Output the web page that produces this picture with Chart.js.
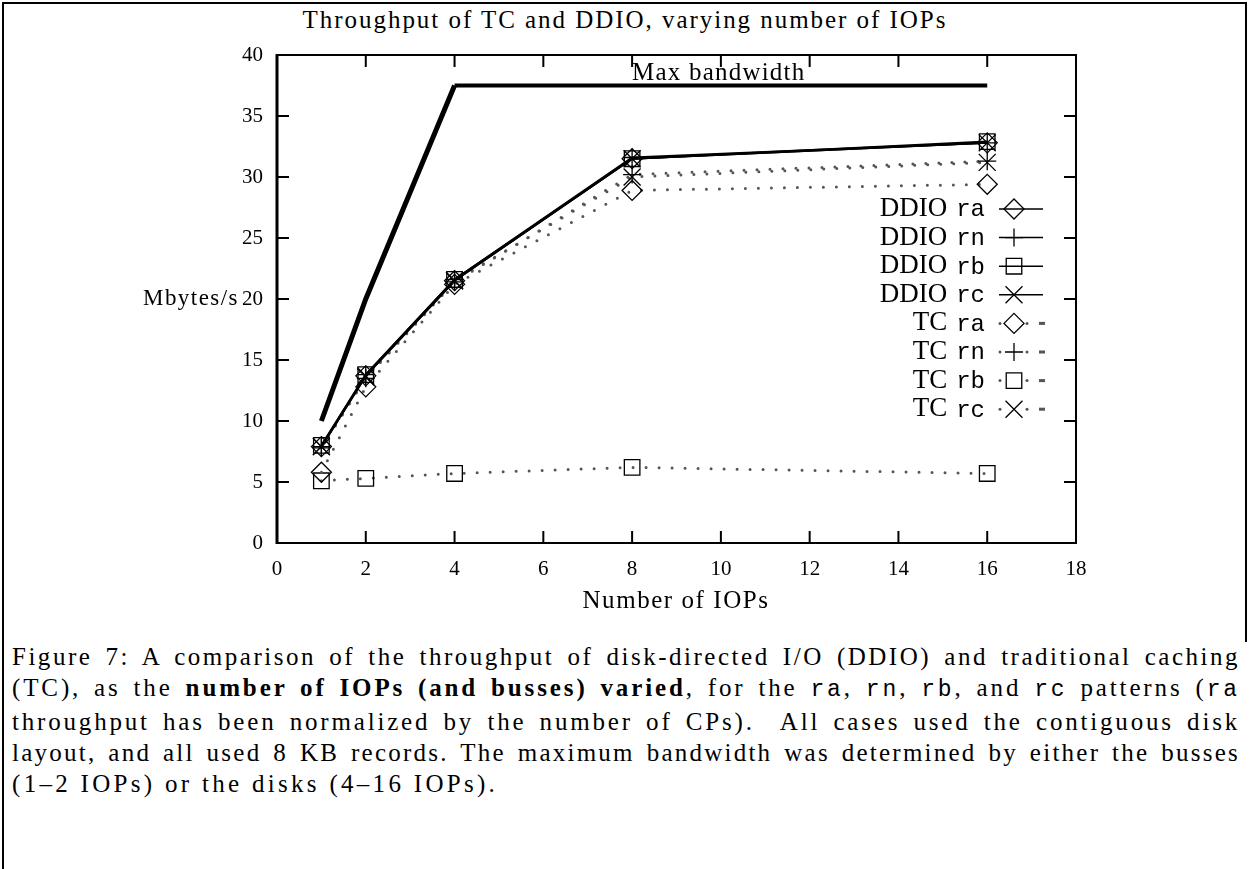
<!DOCTYPE html>
<html lang="en">
<head>
  <meta charset="UTF-8" />
  <title>Throughput of TC and DDIO, varying number of IOPs</title>
  <script src="https://cdn.jsdelivr.net/npm/chart.js"></script>
  <style>
    html, body {
      margin: 0;
      padding: 0;
      background: #fff;
    }

    body {
      width: 1250px;
      height: 869px;
      position: relative;
      overflow: hidden;
      font-family: "Liberation Serif", serif;
      color: #000;
    }

    #frameTop { position: absolute; left: 2px; top: 2px; width: 1245px; height: 2px; background: #000; }
    #frameLeft { position: absolute; left: 2px; top: 2px; width: 2px; height: 867px; background: #000; }
    #frameRight { position: absolute; left: 1245px; top: 2px; width: 2px; height: 640px; background: #000; }

    #title {
      position: absolute;
      top: 6px;
      left: 0;
      width: 1250px;
      text-align: center;
      font-size: 25px;
      white-space: nowrap;
    }

    #chartBox {
      position: absolute;
      left: 0;
      top: 0;
      width: 1250px;
      height: 620px;
    }

    #ylabel {
      position: absolute;
      left: 143px;
      top: 285px;
      font-size: 23px;
      white-space: nowrap;
    }

    #xlabel {
      position: absolute;
      left: 0;
      top: 586px;
      width: 1352px;
      text-align: center;
      font-size: 25px;
      white-space: nowrap;
    }

    #caption {
      position: absolute;
      left: 12px;
      top: 641px;
      width: 1228px;
      font-size: 25px;
      line-height: 31px;
    }

    #caption .ln {
      text-align: justify;
      text-align-last: justify;
      white-space: nowrap;
    }

    #caption .last {
      text-align: left;
      white-space: nowrap;
    }

    #caption code {
      font-family: "Liberation Mono", monospace;
      font-size: 23px;
    }
  </style>
</head>
<body>
  <div id="frameTop"></div>
  <div id="frameLeft"></div>
  <div id="frameRight"></div>

  <div id="title"><span class="fit" data-w="645">Throughput of TC and DDIO, varying number of IOPs</span></div>

  <div id="chartBox">
    <canvas id="chart" width="1250" height="620"></canvas>
  </div>

  <div id="ylabel"><span class="fit" data-w="96">Mbytes/s</span></div>
  <div id="xlabel"><span class="fit" data-w="187">Number of IOPs</span></div>

  <div id="caption">
    <div class="ln">Figure 7: A comparison of the throughput of disk-directed I/O (DDIO) and traditional caching</div>
    <div class="ln">(TC), as the <b>number of IOPs (and busses) varied</b>, for the <code>ra</code>, <code>rn</code>, <code>rb</code>, and <code>rc</code> patterns (<code>ra</code></div>
    <div class="ln">throughput has been normalized by the number of CPs).&nbsp; All cases used the contiguous disk</div>
    <div class="ln">layout, and all used 8 KB records. The maximum bandwidth was determined by either the busses</div>
    <div class="last">(1–2 IOPs) or the disks (4–16 IOPs).</div>
  </div>

  <script>
    // number of IOPs on the x axis
    const iops = [1, 2, 4, 8, 16];

    // maximum bandwidth (busses for 1-2 IOPs, disks for 4-16)
    const maxBandwidth = [10, 20, 37.5, 37.5, 37.5];

    // Mbytes/s, disk-directed I/O
    const ddioRa = [7.9, 13.7, 21.5, 31.5, 32.8];
    const ddioRn = [7.9, 13.8, 21.6, 31.6, 32.8];
    const ddioRb = [8.0, 13.8, 21.6, 31.5, 32.9];
    const ddioRc = [7.9, 13.7, 21.5, 31.5, 32.8];

    // Mbytes/s, traditional caching
    const tcRa = [5.8, 12.8, 21.2, 28.9, 29.4];
    const tcRn = [7.8, 13.5, 21.4, 30.2, 31.3];
    const tcRb = [5.1, 5.3, 5.7, 6.2, 5.7];
    const tcRc = [7.9, 13.6, 21.5, 30.0, 31.2];

    const xTicks = [0, 2, 4, 6, 8, 10, 12, 14, 16, 18];
    const yTicks = [0, 5, 10, 15, 20, 25, 30, 35, 40];

    // stretch a few labels to the widths measured on the figure
    document.querySelectorAll(".fit").forEach(el => {
      const target = +el.dataset.w;
      const w = el.getBoundingClientRect().width;
      const n = el.textContent.length;
      el.style.letterSpacing = ((target - w) / n).toFixed(2) + "px";
    });

    // caption lines: widen the letters a bit, justify does the rest
    document.querySelectorAll("#caption .ln, #caption .last").forEach(el => {
      el.style.display = "inline-block";
      const w = el.getBoundingClientRect().width;
      el.style.display = "block";
      const n = el.textContent.trim().length;
      const isLast = el.classList.contains("last");
      const target = isLast ? 486 : 1228;
      el.style.letterSpacing = ((target - w) * (isLast ? 1 : 0.8) / n).toFixed(2) + "px";
    });

    const pts = ys => iops.map((x, i) => ({ x, y: ys[i] }));

    const solid = (label, ys, style, radius) => ({
      label,
      data: pts(ys),
      borderColor: "#000",
      borderWidth: 2,
      pointStyle: style,
      pointRadius: radius,
      pointBorderColor: "#000",
      pointBackgroundColor: "rgba(0,0,0,0)",
      pointBorderWidth: 1.3,
      tension: 0
    });

    const dotted = (label, ys, style, radius) => ({
      label,
      data: pts(ys),
      borderColor: "#555",
      borderWidth: 3,
      borderDash: [0, 13],
      borderCapStyle: "round",
      pointStyle: style,
      pointRadius: radius,
      pointBorderColor: "#000",
      pointBackgroundColor: "rgba(0,0,0,0)",
      pointBorderWidth: 1.3,
      tension: 0
    });

    const serif = "'Liberation Serif', serif";
    const mono = "'Liberation Mono', monospace";

    // box around the plot with gnuplot-style inward ticks
    const frameTicks = {
      id: "frameTicks",
      afterDatasetsDraw(chart) {
        const { ctx, chartArea: a, scales } = chart;
        ctx.save();
        ctx.strokeStyle = "#000";
        ctx.lineWidth = 2;
        ctx.strokeRect(a.left, a.top, a.right - a.left, a.bottom - a.top);
        ctx.lineWidth = 3;
        ctx.beginPath();
        ctx.moveTo(a.left, a.top - 1);
        ctx.lineTo(a.left, a.bottom + 1);
        ctx.stroke();
        ctx.lineWidth = 2;
        ctx.beginPath();
        xTicks.slice(1, -1).forEach(v => {
          const px = scales.x.getPixelForValue(v);
          ctx.moveTo(px, a.bottom); ctx.lineTo(px, a.bottom - 12);
          ctx.moveTo(px, a.top); ctx.lineTo(px, a.top + 12);
        });
        yTicks.slice(1, -1).forEach(v => {
          const py = scales.y.getPixelForValue(v);
          ctx.moveTo(a.left, py); ctx.lineTo(a.left + 12, py);
          ctx.moveTo(a.right, py); ctx.lineTo(a.right - 12, py);
        });
        ctx.stroke();

        // label on the max bandwidth line
        ctx.fillStyle = "#000";
        ctx.font = "25px " + serif;
        ctx.letterSpacing = "1.2px";
        ctx.textBaseline = "alphabetic";
        ctx.textAlign = "left";
        ctx.fillText("Max bandwidth", scales.x.getPixelForValue(8), scales.y.getPixelForValue(37.7) - 3);
        ctx.restore();
      }
    };

    // key in the upper right of the plot
    const keyBox = {
      id: "keyBox",
      afterDraw(chart) {
        const { ctx } = chart;
        const right = 985, top = 209, step = 28.6;
        ctx.save();
        chart.data.datasets.slice(1).forEach((ds, i) => {
          const y = top + i * step;
          const [group, code] = ds.label.split(" ");
          ctx.fillStyle = "#000";
          ctx.textBaseline = "middle";
          ctx.textAlign = "right";
          ctx.font = "24px " + mono;
          ctx.fillText(code, right, y + 1);
          const cw = ctx.measureText(code).width;
          ctx.font = "27px " + serif;
          ctx.fillText(group, right - cw - 9, y);

          ctx.strokeStyle = "#000";
          if (ds.borderDash) {
            ctx.fillStyle = "#555";
            [1000, 1027].forEach(x => {
              ctx.beginPath();
              ctx.arc(x, y, 1.5, 0, Math.PI * 2);
              ctx.fill();
            });
            ctx.fillRect(1039, y - 1.5, 6, 3);
          } else {
            ctx.lineWidth = 1.5;
            ctx.beginPath();
            ctx.moveTo(999, y);
            ctx.lineTo(1043, y);
            ctx.stroke();
          }
          ctx.fillStyle = "rgba(0,0,0,0)";
          ctx.lineWidth = 1.3;
          Chart.helpers.drawPoint(ctx, {
            pointStyle: ds.pointStyle,
            radius: ds.pointRadius,
            rotation: 0,
            borderWidth: 1.3
          }, 1014, y);
        });
        ctx.restore();
      }
    };

    new Chart(document.getElementById("chart"), {
      type: "line",
      data: {
        datasets: [
          {
            label: "Max bandwidth",
            data: pts(maxBandwidth),
            borderColor: "#000",
            borderWidth: 4,
            pointRadius: 0,
            tension: 0,
            segment: {
              borderWidth: ctx => (ctx.p0.parsed.x < 4 ? 5 : 4)
            }
          },
          solid("DDIO ra", ddioRa, "rectRot", 10),
          solid("DDIO rn", ddioRn, "cross", 9),
          solid("DDIO rb", ddioRb, "rect", 11),
          solid("DDIO rc", ddioRc, "crossRot", 12),
          dotted("TC ra", tcRa, "rectRot", 10),
          dotted("TC rn", tcRn, "cross", 9),
          dotted("TC rb", tcRb, "rect", 11),
          dotted("TC rc", tcRc, "crossRot", 12)
        ]
      },
      options: {
        responsive: false,
        animation: false,
        devicePixelRatio: 1,
        layout: {
          padding: { left: 0, right: 174, top: 55, bottom: 0 }
        },
        plugins: {
          legend: { display: false },
          tooltip: { enabled: false },
          title: { display: false }
        },
        scales: {
          x: {
            type: "linear",
            min: 0,
            max: 18,
            afterBuildTicks: s => { s.ticks = xTicks.map(v => ({ value: v })); },
            afterFit: s => { s.height = 77; },
            ticks: {
              color: "#000",
              font: { family: serif, size: 21 },
              padding: 14,
              maxRotation: 0
            },
            grid: { display: false, drawTicks: false },
            border: { display: false },
            title: { display: false }
          },
          y: {
            min: 0,
            max: 40,
            afterBuildTicks: s => { s.ticks = yTicks.map(v => ({ value: v })); },
            afterFit: s => { s.width = 277; },
            ticks: {
              color: "#000",
              font: { family: serif, size: 21 },
              padding: 14
            },
            grid: { display: false, drawTicks: false },
            border: { display: false }
          }
        }
      },
      plugins: [frameTicks, keyBox]
    });
  </script>
</body>
</html>
